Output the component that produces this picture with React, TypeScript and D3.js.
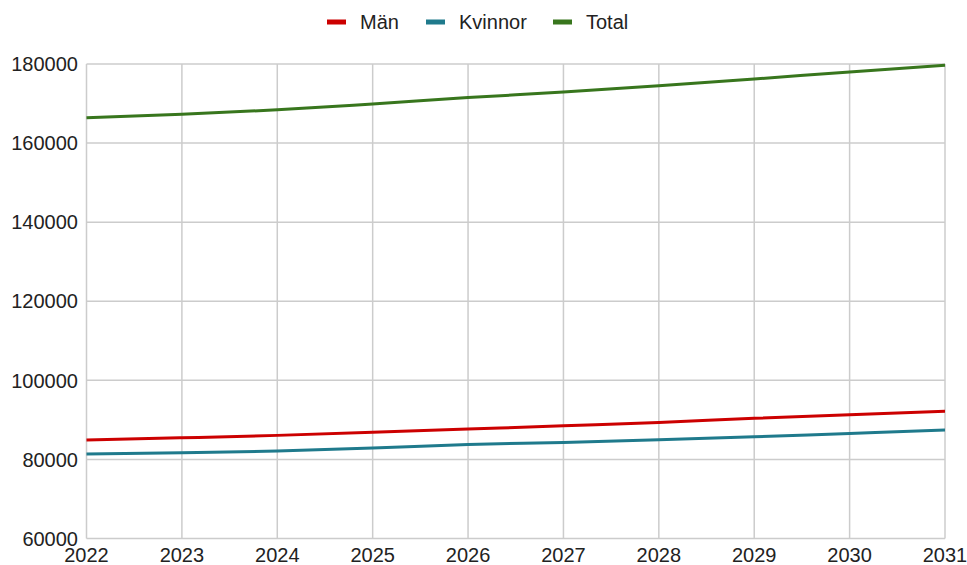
import React from "react";
import * as d3 from "d3";

const years = [2022, 2023, 2024, 2025, 2026, 2027, 2028, 2029, 2030, 2031];
const man = [84900, 85470, 86080, 86840, 87670, 88500, 89360, 90380, 91300, 92150];
const kvinnor = [81340, 81670, 82100, 82860, 83800, 84300, 84960, 85720, 86580, 87420];
const total = [166400, 167300, 168400, 169900, 171500, 172900, 174500, 176200, 178000, 179700];
const yTicks = [60000, 80000, 100000, 120000, 140000, 160000, 180000];
const seriesNames = ["Män", "Kvinnor", "Total"];
const seriesColors = ["#cc0000", "#1f7a8c", "#38761d"];

const W = 967, H = 565;
const left = 86.5, right = 945, top = 64, bottom = 538.5;

export default function App() {
  const x = d3.scaleLinear().domain([2022, 2031]).range([left, right]);
  const y = d3.scaleLinear().domain([60000, 180000]).range([bottom, top]);
  const data = [man, kvinnor, total];
  const line = d3
    .line<number>()
    .x((_, i) => x(years[i]))
    .y((d) => y(d))
    .curve(d3.curveMonotoneX);

  const font = "'Liberation Sans', Arial, sans-serif";
  const legendX = [327, 426, 553];

  return (
    <svg
      width={W}
      height={H}
      style={{ position: "absolute", left: 0, top: 0, background: "#fff" }}
      fontFamily={font}
    >
      {yTicks.map((t) => (
        <g key={"y" + t}>
          <line x1={left} x2={right} y1={y(t)} y2={y(t)} stroke="#cccccc" strokeWidth={1.5} />
          <text x={78} y={y(t)} dy="0.36em" textAnchor="end" fontSize={20} fill="#222">
            {t}
          </text>
        </g>
      ))}
      {years.map((yr) => (
        <g key={"x" + yr}>
          <line x1={x(yr)} x2={x(yr)} y1={top} y2={bottom} stroke="#cccccc" strokeWidth={1.5} />
          <text x={x(yr)} y={562} textAnchor="middle" fontSize={20} fill="#222">
            {yr}
          </text>
        </g>
      ))}
      {data.map((d, i) => (
        <path key={"s" + i} d={line(d) || ""} fill="none" stroke={seriesColors[i]} strokeWidth={3} />
      ))}
      {seriesNames.map((n, i) => (
        <g key={"l" + i}>
          <rect x={legendX[i]} y={19.5} width={19} height={5} fill={seriesColors[i]} />
          <text x={legendX[i] + 33} y={22} dy="0.36em" fontSize={20} fill="#222">
            {n}
          </text>
        </g>
      ))}
    </svg>
  );
}
